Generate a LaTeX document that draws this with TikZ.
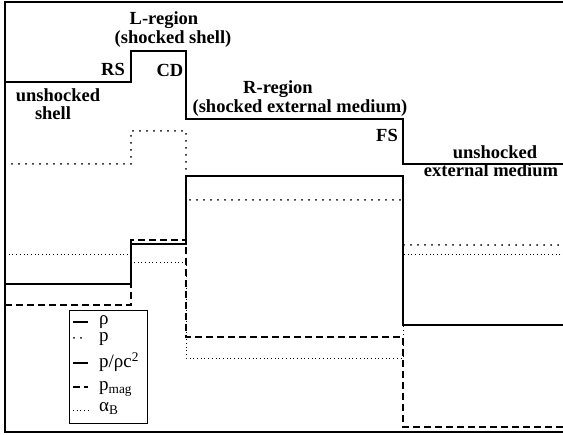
\documentclass[tikz,border=0pt]{standalone}
\usepackage{fontspec}
\setmainfont{Liberation Serif}

\begin{document}
\begin{tikzpicture}[x=1pt,y=-1pt,
    region/.style={font=\fontsize{18.5}{20}\selectfont\bfseries, anchor=base, inner sep=0pt},
    rholine/.style={line width=2pt},
    presline/.style={line width=2pt, line cap=round, dash pattern=on 0pt off 7pt},
    ratioline/.style={line width=1.1pt},
    magline/.style={line width=1.4pt, dash pattern=on 7pt off 4pt},
    alphaline/.style={line width=0.7pt, dash pattern=on 0.7pt off 3pt},
    legtext/.style={font=\fontsize{19}{20}\selectfont, anchor=base west, inner sep=0pt}]

  \useasboundingbox (0,0) rectangle (563,435);

  % frame
  \draw[line width=1.5pt] (563,2) -- (5,2) -- (5,432) -- (563,432);

  % profiles
  \draw[rholine] (5,82) -- (131,82) -- (131,51) -- (186,51) -- (186,119) -- (403,119) -- (403,164) -- (563,164);
  \draw[presline] (5,164) -- (131,164) -- (131,131) -- (186,131) -- (186,200) -- (403,200) -- (403,245) -- (563,245);
  \draw[ratioline] (5,284) -- (131,284) -- (131,244) -- (186,244) -- (186,176) -- (403,176) -- (403,325) -- (563,325);
  \draw[magline] (5,305) -- (131,305) -- (131,240) -- (186,240) -- (186,337) -- (403,337) -- (403,427) -- (563,427);
  \draw[alphaline] (5,254) -- (131,254) -- (131,262) -- (186,262) -- (186,358) -- (403,358) -- (403,254) -- (563,254);

  % region labels
  \node[region] (lreg) at (164,25) {L-region};
  \node[region] (lregsub) at (173,44) {(shocked shell)};
  \node[region, anchor=base east] (rs) at (125,76) {RS};
  \node[region] (cd) at (170,77) {CD};
  \node[region] (ushell) at (58,102) {unshocked};
  \node[region] (ushellb) at (53,120) {shell};
  \node[region] (rreg) at (278,94) {R-region};
  \node[region] (rregsub) at (300,113) {(shocked external medium)};
  \node[region, anchor=base east] (fs) at (398,142) {FS};
  \node[region] (uext) at (495,159) {unshocked};
  \node[region] (uextb) at (491,177) {external medium};

  % legend
  \draw[line width=0.8pt, fill=white] (69,310) rectangle (147,423);
  \draw[rholine] (73,322) -- (88,322);
  \draw[presline] (74,338) -- (88,338);
  \draw[ratioline] (73,363) -- (88,363);
  \draw[magline] (73,387) -- (88,387);
  \draw[alphaline] (73,410) -- (88,410);
  \node[legtext] (lrho) at (99,325) {ρ};
  \node[legtext] (lpres) at (99,342) {p};
  \node[legtext] (lratio) at (99,368) {p/ρc\textsuperscript{2}};
  \node[legtext] (lmag) at (99,391) {p\textsubscript{mag}};
  \node[legtext] (lalpha) at (99,412) {α\textsubscript{B}};

\end{tikzpicture}
\end{document}
